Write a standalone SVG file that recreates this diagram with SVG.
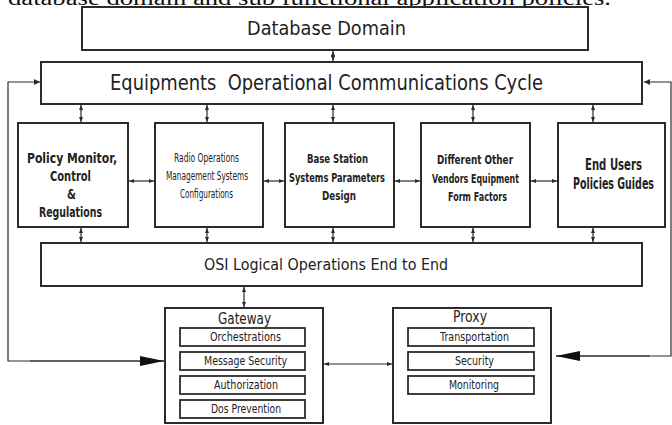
<svg xmlns="http://www.w3.org/2000/svg" width="672" height="425" viewBox="0 0 672 425">
  <style>
    .box { fill: #ffffff; stroke: #2b2b2b; stroke-width: 2; }
    .inner { fill: #ffffff; stroke: #2b2b2b; stroke-width: 1.8; }
    .wire { fill: none; stroke: #2b2b2b; stroke-width: 1.2; }
    .t { font-family: "DejaVu Sans", "Open Sans", sans-serif; fill: #222222; text-anchor: start; }
    .b { font-weight: bold; }
    .c { font-stretch: condensed; }
    .cap { font-family: "Liberation Serif", serif; fill: #111111; }
  </style>
  <defs>
    <marker id="sm" viewBox="0 0 6 6" refX="6" refY="3" markerWidth="6" markerHeight="6" markerUnits="userSpaceOnUse" orient="auto-start-reverse">
      <path d="M0,0 L6,3 L0,6 z" fill="#2b2b2b"/>
    </marker>
    <marker id="tiny" viewBox="0 0 5 5" refX="5" refY="2.5" markerWidth="5" markerHeight="5" markerUnits="userSpaceOnUse" orient="auto-start-reverse">
      <path d="M0,0.5 L5,2.5 L0,4.5 z" fill="#2b2b2b"/>
    </marker>
    <marker id="big" viewBox="0 0 24 10" refX="24" refY="5" markerWidth="24" markerHeight="10" markerUnits="userSpaceOnUse" orient="auto">
      <path d="M0,0 L24,5 L0,10 z" fill="#111111"/>
    </marker>
  </defs>

  <rect width="672" height="425" fill="#ffffff"/>

  <!-- running text line above the figure, clipped by the page top -->
  <text class="cap" x="8" y="5" font-size="20" textLength="603" lengthAdjust="spacingAndGlyphs">database domain and sub functional application policies.</text>

  <g id="connectors">
    <!-- database to cycle -->
    <line class="wire" x1="333" y1="51" x2="333" y2="61" marker-start="url(#tiny)" marker-end="url(#tiny)"/>
    <!-- cycle to the five blocks -->
    <line class="wire" x1="81" y1="105" x2="81" y2="122" marker-start="url(#tiny)" marker-end="url(#tiny)"/>
    <line class="wire" x1="207" y1="105" x2="207" y2="122" marker-start="url(#tiny)" marker-end="url(#tiny)"/>
    <line class="wire" x1="333" y1="105" x2="333" y2="122" marker-start="url(#tiny)" marker-end="url(#tiny)"/>
    <line class="wire" x1="473" y1="105" x2="473" y2="122" marker-start="url(#tiny)" marker-end="url(#tiny)"/>
    <line class="wire" x1="593" y1="105" x2="593" y2="122" marker-start="url(#tiny)" marker-end="url(#tiny)"/>
    <!-- five blocks to OSI -->
    <line class="wire" x1="81" y1="228" x2="81" y2="242" marker-start="url(#tiny)" marker-end="url(#tiny)"/>
    <line class="wire" x1="207" y1="228" x2="207" y2="242" marker-start="url(#tiny)" marker-end="url(#tiny)"/>
    <line class="wire" x1="333" y1="228" x2="333" y2="242" marker-start="url(#tiny)" marker-end="url(#tiny)"/>
    <line class="wire" x1="473" y1="228" x2="473" y2="242" marker-start="url(#tiny)" marker-end="url(#tiny)"/>
    <line class="wire" x1="593" y1="228" x2="593" y2="242" marker-start="url(#tiny)" marker-end="url(#tiny)"/>
    <!-- links between neighbouring blocks -->
    <line class="wire" x1="129" y1="181" x2="154" y2="181" marker-start="url(#tiny)" marker-end="url(#tiny)"/>
    <line class="wire" x1="264" y1="181" x2="284" y2="181" marker-start="url(#tiny)" marker-end="url(#tiny)"/>
    <line class="wire" x1="395" y1="181" x2="420" y2="181" marker-start="url(#tiny)" marker-end="url(#tiny)"/>
    <line class="wire" x1="531" y1="181" x2="557" y2="181" marker-start="url(#tiny)" marker-end="url(#tiny)"/>
    <!-- OSI to gateway -->
    <line class="wire" x1="244" y1="287" x2="244" y2="307" marker-start="url(#tiny)" marker-end="url(#tiny)"/>
    <!-- gateway to proxy -->
    <line class="wire" x1="324" y1="364" x2="392" y2="364" marker-start="url(#tiny)" marker-end="url(#tiny)"/>
    <!-- left feedback loop -->
    <polyline class="wire" points="164,361 8,361 8,82 40,82" marker-end="url(#sm)"/>
    <line class="wire" x1="30" y1="361" x2="164" y2="361" marker-end="url(#big)"/>
    <!-- right feedback loop -->
    <polyline class="wire" points="556,356 671,356 671,82 644,82" marker-end="url(#sm)"/>
    <line class="wire" x1="650" y1="356" x2="556" y2="356" marker-end="url(#big)"/>
  </g>

  <g id="database-domain">
    <rect class="box" x="82" y="7" width="506" height="43"/>
    <text class="t" x="247" y="35" font-size="19" textLength="159" lengthAdjust="spacingAndGlyphs">Database Domain</text>
  </g>

  <g id="operational-cycle">
    <rect class="box" x="41" y="62" width="601" height="42"/>
    <text class="t" x="110" y="90" font-size="21" xml:space="preserve" textLength="433" lengthAdjust="spacingAndGlyphs">Equipments  Operational Communications Cycle</text>
  </g>

  <g id="policy-monitor">
    <rect class="box" x="18" y="123" width="110" height="104"/>
    <text class="t b" x="27" y="163" font-size="14" textLength="90" lengthAdjust="spacingAndGlyphs">Policy Monitor,</text>
    <text class="t b" x="50" y="181" font-size="14" textLength="41" lengthAdjust="spacingAndGlyphs">Control</text>
    <text class="t b" x="67" y="199" font-size="14" textLength="9" lengthAdjust="spacingAndGlyphs">&amp;</text>
    <text class="t b" x="39" y="217" font-size="14" textLength="63" lengthAdjust="spacingAndGlyphs">Regulations</text>
  </g>

  <g id="radio-operations">
    <rect class="box" x="155" y="123" width="108" height="104"/>
    <text class="t c" x="174" y="162" font-size="12.5" textLength="65" lengthAdjust="spacingAndGlyphs">Radio Operations</text>
    <text class="t c" x="166" y="180" font-size="12.5" textLength="82" lengthAdjust="spacingAndGlyphs">Management Systems</text>
    <text class="t c" x="180" y="198" font-size="12.5" textLength="53" lengthAdjust="spacingAndGlyphs">Configurations</text>
  </g>

  <g id="base-station">
    <rect class="box" x="285" y="123" width="109" height="104"/>
    <text class="t b" x="307" y="163" font-size="13" textLength="61" lengthAdjust="spacingAndGlyphs">Base Station</text>
    <text class="t b" x="289" y="182" font-size="13" textLength="96" lengthAdjust="spacingAndGlyphs">Systems Parameters</text>
    <text class="t b" x="322" y="200" font-size="13" textLength="34" lengthAdjust="spacingAndGlyphs">Design</text>
  </g>

  <g id="other-vendors">
    <rect class="box" x="421" y="123" width="109" height="104"/>
    <text class="t b" x="437" y="164" font-size="13" textLength="76" lengthAdjust="spacingAndGlyphs">Different Other</text>
    <text class="t b" x="432" y="183" font-size="13" textLength="87" lengthAdjust="spacingAndGlyphs">Vendors Equipment</text>
    <text class="t b" x="448" y="201" font-size="13" textLength="59" lengthAdjust="spacingAndGlyphs">Form Factors</text>
  </g>

  <g id="end-users">
    <rect class="box" x="558" y="123" width="107" height="104"/>
    <text class="t b" x="585" y="170" font-size="15" textLength="57" lengthAdjust="spacingAndGlyphs">End Users</text>
    <text class="t b" x="573" y="189" font-size="15" textLength="81" lengthAdjust="spacingAndGlyphs">Policies Guides</text>
  </g>

  <g id="osi-logical">
    <rect class="box" x="41" y="243" width="601" height="43"/>
    <text class="t" x="204" y="270" font-size="16" textLength="244" lengthAdjust="spacingAndGlyphs">OSI Logical Operations End to End</text>
  </g>

  <g id="gateway">
    <rect class="box" x="165" y="308" width="158" height="115"/>
    <text class="t" x="218" y="324" font-size="15" textLength="53" lengthAdjust="spacingAndGlyphs">Gateway</text>
    <rect class="inner" x="180" y="328" width="125" height="18"/>
    <text class="t" x="210" y="341" font-size="11.5" textLength="71" lengthAdjust="spacingAndGlyphs">Orchestrations</text>
    <rect class="inner" x="180" y="352" width="125" height="18"/>
    <text class="t" x="204" y="365" font-size="11.5" textLength="83" lengthAdjust="spacingAndGlyphs">Message Security</text>
    <rect class="inner" x="180" y="376" width="125" height="18"/>
    <text class="t" x="214" y="389" font-size="11.5" textLength="64" lengthAdjust="spacingAndGlyphs">Authorization</text>
    <rect class="inner" x="180" y="400" width="125" height="18"/>
    <text class="t" x="211" y="413" font-size="11.5" textLength="70" lengthAdjust="spacingAndGlyphs">Dos Prevention</text>
  </g>

  <g id="proxy">
    <rect class="box" x="393" y="308" width="158" height="115"/>
    <text class="t" x="453" y="322" font-size="15" textLength="34" lengthAdjust="spacingAndGlyphs">Proxy</text>
    <rect class="inner" x="408" y="328" width="126" height="18"/>
    <text class="t" x="440" y="341" font-size="11.5" textLength="69" lengthAdjust="spacingAndGlyphs">Transportation</text>
    <rect class="inner" x="408" y="352" width="126" height="18"/>
    <text class="t" x="455" y="365" font-size="11.5" textLength="39" lengthAdjust="spacingAndGlyphs">Security</text>
    <rect class="inner" x="408" y="376" width="126" height="18"/>
    <text class="t" x="449" y="389" font-size="11.5" textLength="50" lengthAdjust="spacingAndGlyphs">Monitoring</text>
  </g>
</svg>
